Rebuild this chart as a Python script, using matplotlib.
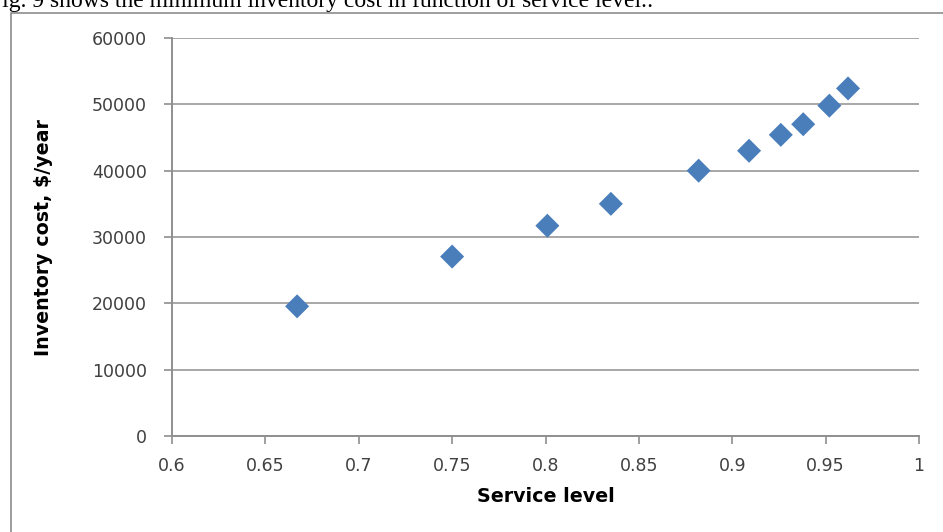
import matplotlib
matplotlib.use("Agg")
import matplotlib.pyplot as plt
from matplotlib.patches import Rectangle

# Minimum inventory cost against service level
service_level = [0.667, 0.750, 0.801, 0.835, 0.882, 0.909, 0.926, 0.938, 0.952, 0.962]
inventory_cost = [19550, 27050, 31700, 35000, 40000, 43000, 45400, 47000, 49800, 52400]

x_ticks = [0.6, 0.65, 0.7, 0.75, 0.8, 0.85, 0.9, 0.95, 1.0]
x_tick_labels = ["0.6", "0.65", "0.7", "0.75", "0.8", "0.85", "0.9", "0.95", "1"]
y_ticks = [0, 10000, 20000, 30000, 40000, 50000, 60000]
y_tick_labels = ["0", "10000", "20000", "30000", "40000", "50000", "60000"]

W, H = 943, 532
fig = plt.figure(figsize=(W / 100, H / 100), dpi=100)

# caption line of the surrounding text, partly clipped by the top edge
fig.text(-11 / W, 1 - 7.5 / H,
         "Fig. 9 shows the minimum inventory cost in function of service level.:",
         family=["Liberation Serif", "DejaVu Serif"], fontsize=17,
         color="black", va="baseline", ha="left")

# chart frame
fig.patches.append(Rectangle((11 / W, -0.1), 1.2, (1 - 13 / H) + 0.1,
                             transform=fig.transFigure, fill=False,
                             edgecolor="#8c8c8c", linewidth=1.2, zorder=0))

ax = fig.add_axes([172 / W, 1 - 436 / H, (919 - 172) / W, (436 - 38) / H])
ax.set_xlim(0.6, 1.0)
ax.set_ylim(0, 60000)

ax.scatter(service_level, inventory_cost, marker="D", s=150,
           color="#4A7EBB", edgecolors="none", zorder=3, clip_on=False)

grid_col = "#8f8f8f"
ax.set_yticks(y_ticks)
ax.set_yticklabels(y_tick_labels)
ax.set_xticks(x_ticks)
ax.set_xticklabels(x_tick_labels)
ax.yaxis.grid(True, color=grid_col, linewidth=1.1)
ax.set_axisbelow(True)

for side in ("top", "right"):
    ax.spines[side].set_visible(False)
for side in ("left", "bottom"):
    ax.spines[side].set_color(grid_col)
    ax.spines[side].set_linewidth(1.4)

ax.tick_params(axis="both", direction="out", color=grid_col, width=1.2,
               length=6, labelcolor="#404040", labelsize=12.5)
ax.tick_params(axis="y", pad=12)
ax.tick_params(axis="x", pad=9)
for lbl in ax.get_xticklabels() + ax.get_yticklabels():
    lbl.set_family("DejaVu Sans")

label_font = dict(family=["DejaVu Sans"], fontsize=13.7, fontweight="bold",
                  color="black")
fig.text(546 / W, 1 - 497 / H, "Service level", ha="center", va="center",
         **label_font)
fig.text(44 / W, 1 - 238 / H, "Inventory cost, $/year", ha="center",
         va="center", rotation=90, **label_font)

fig.savefig("out.png", dpi=100)
